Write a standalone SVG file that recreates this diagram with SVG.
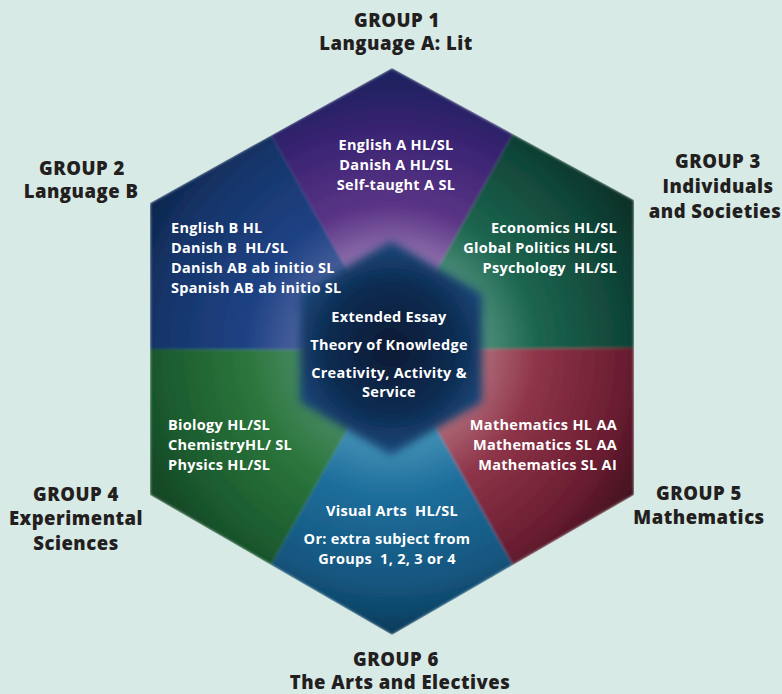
<svg xmlns="http://www.w3.org/2000/svg" width="782" height="694" viewBox="0 0 782 694">
<style>
.title{font-family:"Open Sans","Liberation Sans",sans-serif;font-weight:800;font-size:18.5px;fill:#231f20;text-anchor:middle;letter-spacing:0.5px}
.sub{font-family:"Open Sans","Liberation Sans",sans-serif;font-weight:700;font-size:14.5px;fill:#ffffff;white-space:pre;letter-spacing:0.3px}
.mid{text-anchor:middle}
.end{text-anchor:end}
</style>
<defs>
<radialGradient id="g1" cx="392" cy="350" r="290" gradientUnits="userSpaceOnUse">
<stop offset="0.25" stop-color="#a88bbd"/><stop offset="0.5" stop-color="#5a3486"/><stop offset="0.75" stop-color="#3a2472"/><stop offset="1" stop-color="#15235a"/></radialGradient>
<radialGradient id="g2" cx="392" cy="350" r="290" gradientUnits="userSpaceOnUse">
<stop offset="0.25" stop-color="#5a6ca6"/><stop offset="0.5" stop-color="#1f4284"/><stop offset="0.8" stop-color="#15356a"/><stop offset="1" stop-color="#0d2449"/></radialGradient>
<radialGradient id="g3" cx="392" cy="350" r="290" gradientUnits="userSpaceOnUse">
<stop offset="0.25" stop-color="#5e9c88"/><stop offset="0.5" stop-color="#1c654f"/><stop offset="0.8" stop-color="#104538"/><stop offset="1" stop-color="#092c25"/></radialGradient>
<radialGradient id="g4" cx="392" cy="350" r="290" gradientUnits="userSpaceOnUse">
<stop offset="0.25" stop-color="#4f8e6c"/><stop offset="0.5" stop-color="#2b763c"/><stop offset="0.8" stop-color="#1b5a2e"/><stop offset="1" stop-color="#104022"/></radialGradient>
<radialGradient id="g5" cx="392" cy="350" r="290" gradientUnits="userSpaceOnUse">
<stop offset="0.25" stop-color="#b87a86"/><stop offset="0.5" stop-color="#8e3449"/><stop offset="0.8" stop-color="#6a1d31"/><stop offset="1" stop-color="#3a0e1c"/></radialGradient>
<radialGradient id="g6" cx="392" cy="350" r="290" gradientUnits="userSpaceOnUse">
<stop offset="0.25" stop-color="#4f9cbc"/><stop offset="0.5" stop-color="#1e6e9c"/><stop offset="0.8" stop-color="#14567f"/><stop offset="1" stop-color="#0a3857"/></radialGradient>
<radialGradient id="gc" cx="391" cy="348" r="110" gradientUnits="userSpaceOnUse">
<stop offset="0" stop-color="#061a33"/><stop offset="0.6" stop-color="#0c2c52"/><stop offset="1" stop-color="#1d4c80"/></radialGradient>
<filter id="soft" x="-20%" y="-20%" width="140%" height="140%"><feGaussianBlur stdDeviation="4"/></filter>
<filter id="edge" x="-5%" y="-5%" width="110%" height="110%"><feGaussianBlur stdDeviation="1.5"/></filter>
<clipPath id="hexclip"><polygon points="392,68 634,200 634,495 392,635 150,495 150,203"/></clipPath>
</defs>
<rect width="782" height="694" fill="#d8eae6"/>
<g id="wedges" clip-path="url(#hexclip)">
<g filter="url(#edge)">
<polygon id="w1" points="392,350 271,135 392,68 513,134" fill="url(#g1)"/>
<polygon id="w3" points="392,350 513,134 634,200 634,348" fill="url(#g3)"/>
<polygon id="w5" points="392,350 634,348 634,495 513,565" fill="url(#g5)"/>
<polygon id="w6" points="392,350 513,565 392,635 271,565" fill="url(#g6)"/>
<polygon id="w4" points="392,350 271,565 150,495 150,349" fill="url(#g4)"/>
<polygon id="w2" points="392,350 150,349 150,203 271,135" fill="url(#g2)"/>
</g>
</g>
<g id="core">
<polygon points="391,241 482,294 482,402 391,455 300,402 300,294" fill="url(#gc)" filter="url(#soft)"/>
<text class="sub mid" x="389" y="322">Extended Essay</text>
<text class="sub mid" x="389" y="350">Theory of Knowledge</text>
<text class="sub mid" x="389" y="378">Creativity, Activity &amp;</text>
<text class="sub mid" x="389" y="397">Service</text>
</g>
<g id="group1">
<text class="title" x="397" y="27">GROUP 1</text>
<text class="title" x="396" y="50">Language A: Lit</text>
<text class="sub mid" x="396" y="150">English A HL/SL</text>
<text class="sub mid" x="396" y="170">Danish A HL/SL</text>
<text class="sub mid" x="396" y="190">Self-taught A SL</text>
</g>
<g id="group2">
<text class="title" x="82" y="175">GROUP 2</text>
<text class="title" x="81" y="198">Language B</text>
<text class="sub" x="171" y="233">English B HL</text>
<text class="sub" x="171" y="253">Danish B  HL/SL</text>
<text class="sub" x="171" y="273">Danish AB ab initio SL</text>
<text class="sub" x="171" y="293">Spanish AB ab initio SL</text>
</g>
<g id="group3">
<text class="title" x="718" y="168">GROUP 3</text>
<text class="title" x="718" y="193">Individuals</text>
<text class="title" x="715" y="218">and Societies</text>
<text class="sub end" x="617" y="233">Economics HL/SL</text>
<text class="sub end" x="617" y="253">Global Politics HL/SL</text>
<text class="sub end" x="617" y="273">Psychology  HL/SL</text>
</g>
<g id="group4">
<text class="title" x="76" y="501">GROUP 4</text>
<text class="title" x="76" y="525">Experimental</text>
<text class="title" x="76" y="550">Sciences</text>
<text class="sub" x="168" y="430">Biology HL/SL</text>
<text class="sub" x="168" y="450">ChemistryHL/ SL</text>
<text class="sub" x="168" y="470">Physics HL/SL</text>
</g>
<g id="group5">
<text class="title" x="699" y="500">GROUP 5</text>
<text class="title" x="699" y="524">Mathematics</text>
<text class="sub end" x="617" y="430">Mathematics HL AA</text>
<text class="sub end" x="617" y="450">Mathematics SL AA</text>
<text class="sub end" x="617" y="470">Mathematics SL AI</text>
</g>
<g id="group6">
<text class="title" x="396" y="666">GROUP 6</text>
<text class="title" x="400" y="689">The Arts and Electives</text>
<text class="sub mid" x="392" y="516">Visual Arts  HL/SL</text>
<text class="sub mid" x="387" y="544">Or: extra subject from</text>
<text class="sub mid" x="387" y="564">Groups  1, 2, 3 or 4</text>
</g>
</svg>
